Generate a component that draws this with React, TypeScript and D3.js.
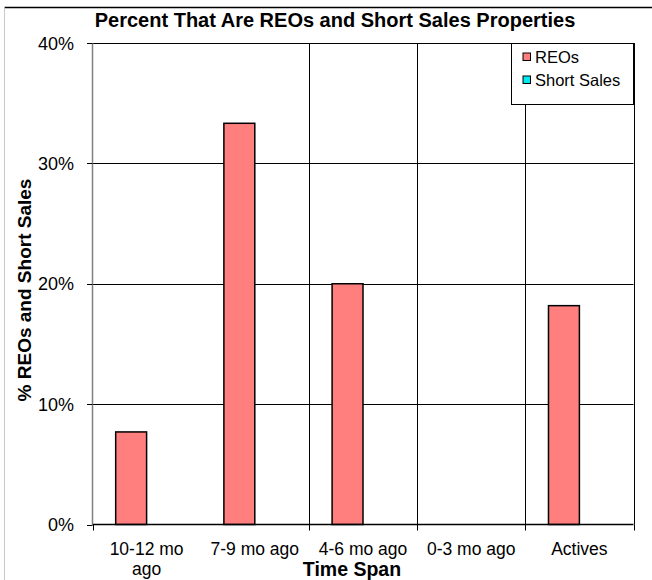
import React from "react";
import * as d3 from "d3";

const categories = ["10-12 mo ago", "7-9 mo ago", "4-6 mo ago", "0-3 mo ago", "Actives"];
const categoryLines = [["10-12 mo", "ago"], ["7-9 mo ago"], ["4-6 mo ago"], ["0-3 mo ago"], ["Actives"]];
const seriesNames = ["REOs", "Short Sales"];
const reoValues = [7.69, 33.33, 20.0, 0, 18.18];
const shortSaleValues = [0, 0, 0, 0, 0];
const yTicks = [0, 10, 20, 30, 40];
const seriesColors = ["#FF7F7F", "#00E8F0"];

const W = 652;
const H = 580;
const FONT = "'Liberation Sans', Arial, sans-serif";

export default function App() {
  const left = 92.5;
  const right = 633.5;
  const top = 43;
  const bottom = 524.5;

  const x = d3.scaleBand<string>().domain(categories).range([left, right]).padding(0);
  const inner = d3
    .scaleBand<string>()
    .domain(seriesNames)
    .range([0, x.bandwidth()])
    .paddingInner(0)
    .paddingOuter(0.75);
  const y = d3.scaleLinear().domain([0, 40]).range([bottom, top]);

  const series = [reoValues, shortSaleValues];
  const step = x.step();
  const boundaryIdx = [0, 2, 3, 4, 5];

  return (
    <svg width={W} height={H} style={{ display: "block", position: "absolute", left: 0, top: 0 }} fontFamily={FONT}>
      <rect x={0} y={0} width={W} height={H} fill="#fff" />
      <line x1={4.5} x2={W} y1={7.5} y2={7.5} stroke="#000" strokeWidth={1.5} />
      <line x1={4.5} x2={4.5} y1={7.5} y2={H} stroke="#c8c8c8" strokeWidth={1} />

      <text x={335} y={27} textAnchor="middle" fontSize={20} fontWeight="bold" fill="#000">
        Percent That Are REOs and Short Sales Properties
      </text>

      {yTicks.filter((t) => t > 0).map((t) => (
        <line key={"hg" + t} x1={left} x2={right} y1={Math.round(y(t)) + 0.5} y2={Math.round(y(t)) + 0.5} stroke="#000" strokeWidth={1} />
      ))}
      {boundaryIdx.filter((i) => i > 0).map((i) => {
        const xx = Math.round(left + i * step) + 0.5;
        return <line key={"vg" + i} x1={xx} x2={xx} y1={y(40)} y2={bottom} stroke="#000" strokeWidth={1} />;
      })}

      {series.map((vals, si) =>
        categories.map((c, ci) => {
          const v = vals[ci];
          if (!v) return null;
          const bx = (x(c) as number) + (inner(seriesNames[si]) as number);
          return (
            <rect
              key={si + "-" + ci}
              x={bx}
              y={y(v)}
              width={inner.bandwidth()}
              height={bottom - y(v)}
              fill={seriesColors[si]}
              stroke="#000"
              strokeWidth={1.5}
            />
          );
        })
      )}

      <line x1={left} x2={left} y1={top} y2={bottom} stroke="#808080" strokeWidth={1.5} />
      {yTicks.map((t) => (
        <g key={"yt" + t}>
          <line x1={left - 5.5} x2={left} y1={Math.round(y(t)) + 0.5} y2={Math.round(y(t)) + 0.5} stroke="#000" strokeWidth={1} />
          <text x={74} y={y(t) + 6.5} textAnchor="end" fontSize={18} fill="#000">
            {t + "%"}
          </text>
        </g>
      ))}

      <line x1={left} x2={right} y1={bottom} y2={bottom} stroke="#000" strokeWidth={1.5} />
      {boundaryIdx.map((i) => {
        const xx = Math.round(left + i * step) + 0.5;
        return <line key={"xt" + i} x1={xx} x2={xx} y1={bottom} y2={bottom + 6} stroke="#000" strokeWidth={1} />;
      })}
      {categories.map((c, ci) => (
        <text key={"xl" + ci} x={(x(c) as number) + x.bandwidth() / 2} y={554.5} textAnchor="middle" fontSize={17.5} fill="#000">
          {categoryLines[ci].map((ln, li) => (
            <tspan key={li} x={(x(c) as number) + x.bandwidth() / 2} dy={li === 0 ? 0 : 20}>
              {ln}
            </tspan>
          ))}
        </text>
      ))}

      <text x={352} y={576} textAnchor="middle" fontSize={19.5} fontWeight="bold" fill="#000">
        Time Span
      </text>
      <text transform="translate(31,290) rotate(-90)" textAnchor="middle" fontSize={19} fontWeight="bold" fill="#000">
        % REOs and Short Sales
      </text>

      <rect x={511.5} y={Math.round(top) + 0.5} width={right - 511.5} height={61} fill="#fff" stroke="#000" strokeWidth={1} />
      {seriesNames.map((s, i) => (
        <g key={"lg" + i}>
          <rect x={523} y={53 + i * 23} width={7.5} height={7.5} fill={seriesColors[i]} stroke="#000" strokeWidth={1} />
          <text x={535} y={63 + i * 23} fontSize={16.5} fill="#000">
            {s}
          </text>
        </g>
      ))}
    </svg>
  );
}
